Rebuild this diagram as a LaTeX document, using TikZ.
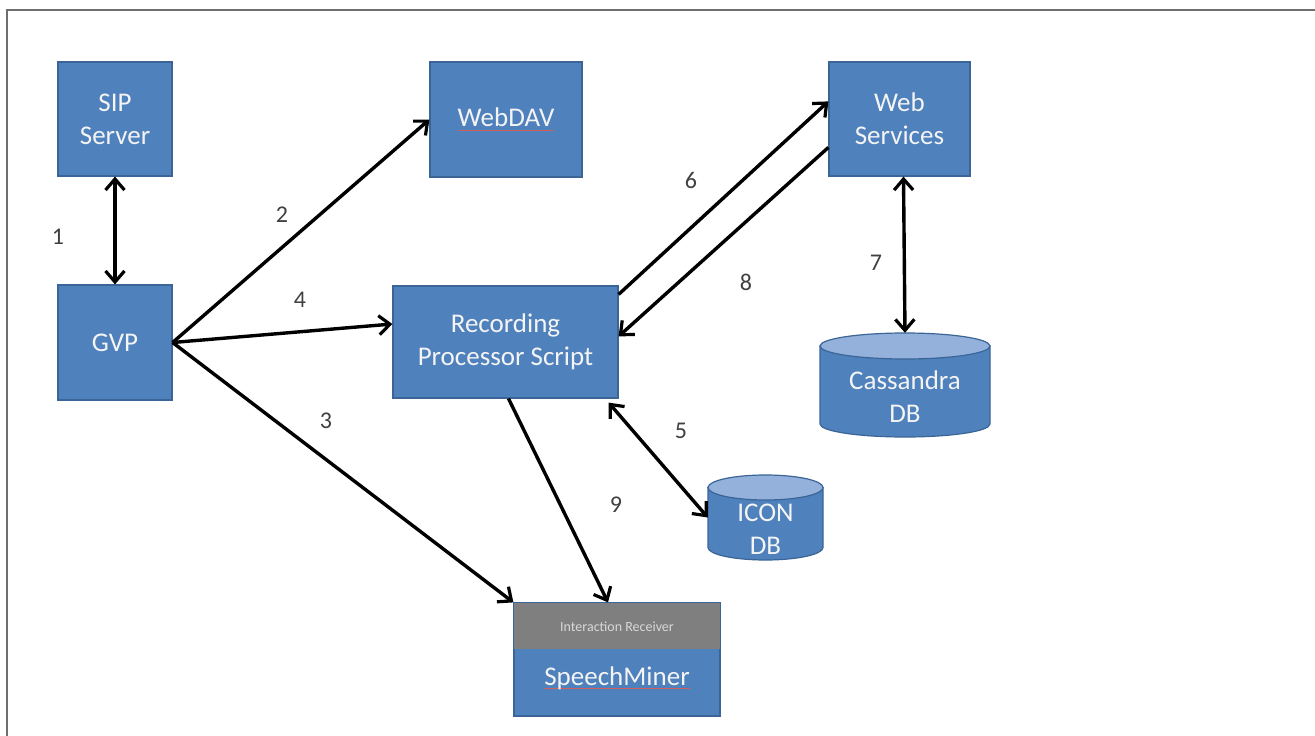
\documentclass[tikz,border=0pt]{standalone}
\usepackage{fontspec}
\setmainfont{Carlito}
\usetikzlibrary{arrows.meta,calc}
\definecolor{boxblue}{HTML}{4F81BD}
\definecolor{boxedge}{HTML}{3A6596}
\definecolor{toplight}{HTML}{93B1DA}
\definecolor{bandgray}{HTML}{7F7F7F}
\definecolor{bandtext}{HTML}{D8D8D8}
\definecolor{labgray}{HTML}{404040}
\definecolor{framegray}{HTML}{6E6E6E}
\definecolor{ulred}{HTML}{D06060}
\definecolor{boxtext}{HTML}{F4F4F4}
\newcommand\spellul[1]{\setbox0\hbox{#1}\rlap{\color{ulred}\rule[-4pt]{\wd0}{0.9pt}}\box0}
\newcommand\boxfont{\fontsize{27}{33}\selectfont}
\newcommand\labfont{\fontsize{24}{28}\selectfont}
\tikzset{
  blk/.style={draw=boxedge, line width=1.2pt, fill=boxblue, text=boxtext, font=\boxfont, align=center, inner sep=0pt},
  txt/.style={text=boxtext, font=\boxfont, align=center, inner sep=0pt},
  lab/.style={text=labgray, font=\labfont, inner sep=0pt},
  tip/.tip={Straight Barb[length=11pt,width=19pt,line width=3.2pt]},
  arr/.style={line width=3.4pt, -tip},
  darr/.style={line width=3.4pt, tip-tip}
}
\begin{document}
\begin{tikzpicture}[x=1pt,y=-1pt]
\useasboundingbox (0,0) rectangle (1315,736);
\fill[white] (0,0) rectangle (1315,736);
\draw[framegray, line width=2pt] (6.5,736) -- (6.5,9.5) -- (1315,9.5);

% boxes
\node[blk, minimum width=114pt, minimum height=114pt] (sip) at (115,119) {SIP\\Server};
\node[blk, minimum width=114pt, minimum height=115pt] (gvp) at (115,342.5) {GVP};
\node[blk, minimum width=152pt, minimum height=115pt] (webdav) at (506,119.5) {\spellul{WebDAV}};
\node[blk, minimum width=141pt, minimum height=114pt] (ws) at (899.5,119) {Web\\Services};
\node[blk, minimum width=225pt, minimum height=112pt] (rps) at (505.5,342) {Recording\\Processor Script};

% SpeechMiner
\node[blk, minimum width=206pt, minimum height=113pt] (speech) at (617,659.5) {};
\fill[bandgray] (speech.north west) rectangle ($(speech.north east)+(0,47)$);
\draw[boxedge, line width=1.2pt] (speech.north west) rectangle (speech.south east);
\node[inner sep=0pt, text=bandtext, font=\fontsize{14}{16}\selectfont] (ir) at (617,627) {Interaction Receiver};
\node[txt] (smtext) at (617,678) {\spellul{SpeechMiner}};

% ICON DB cylinder
\node[inner sep=0pt, minimum width=115pt, minimum height=85pt] (icon) at (765.5,517.5) {};
\filldraw[fill=boxblue, draw=boxedge, line width=1.2pt] (708,487.5) -- (708,547.5) arc[start angle=180, end angle=360, x radius=57.5pt, y radius=12.5pt] -- (823,487.5) -- cycle;
\filldraw[fill=toplight, draw=boxedge, line width=1.2pt] (765.5,487.5) ellipse[x radius=57.5pt, y radius=12.5pt];
\node[txt] (icontext) at (765.5,529) {ICON\\DB};

% Cassandra DB cylinder
\node[inner sep=0pt, minimum width=170pt, minimum height=104pt] (cass) at (905,385) {};
\filldraw[fill=boxblue, draw=boxedge, line width=1.2pt] (820,346) -- (820,424) arc[start angle=180, end angle=360, x radius=85pt, y radius=13pt] -- (990,346) -- cycle;
\filldraw[fill=toplight, draw=boxedge, line width=1.2pt] (905,346) ellipse[x radius=85pt, y radius=13pt];
\node[txt] (casstext) at (905,397) {Cassandra\\DB};

% connectors
\draw[darr] (sip.south) -- (gvp.north);
\draw[arr] (gvp.east) -- (webdav.west);
\draw[arr] (gvp.east) -- ([yshift=18pt]rps.west);
\draw[arr] (gvp.east) -- (speech.north west);
\draw[arr] ([yshift=-9pt]rps.north east) -- ([yshift=-40pt]ws.north west);
\draw[arr] ([yshift=-86pt]ws.north west) -- ([yshift=-51pt]rps.north east);
\draw[darr] ([xshift=4pt]ws.south) -- (cass.north);
\draw[darr] ([xshift=-10pt,yshift=-4pt]rps.south east) -- (icon.west);
\draw[arr] ([xshift=3pt]rps.south) -- ([xshift=-9pt]speech.north);

% labels
\node[lab] (l1) at (58,237) {1};
\node[lab] (l2) at (282,215) {2};
\node[lab] (l3) at (326,421) {3};
\node[lab] (l4) at (300,300) {4};
\node[lab] (l5) at (681,431) {5};
\node[lab] (l6) at (691,180) {6};
\node[lab] (l7) at (876,263) {7};
\node[lab] (l8) at (746,282) {8};
\node[lab] (l9) at (616,505) {9};
\end{tikzpicture}
\end{document}
